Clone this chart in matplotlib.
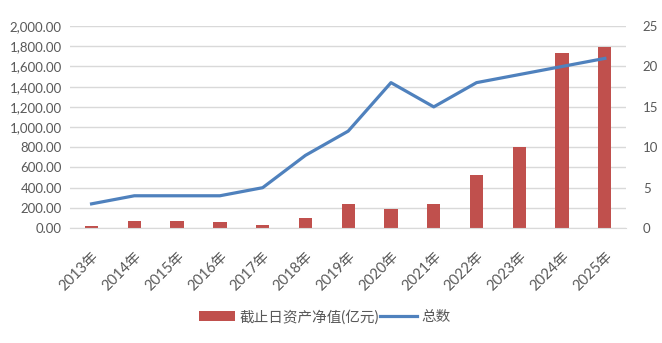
import numpy as np
import matplotlib
matplotlib.use('Agg')
import matplotlib.pyplot as plt
from matplotlib.ticker import FuncFormatter, MultipleLocator

plt.rcParams['font.family'] = ['Lato', 'Noto Sans CJK SC', 'DejaVu Sans']

years = ['2013年', '2014年', '2015年', '2016年', '2017年', '2018年', '2019年',
         '2020年', '2021年', '2022年', '2023年', '2024年', '2025年']
net_assets = [25, 70, 70, 60, 33, 96, 238, 185, 238, 528, 802, 1733, 1792]
total = [3, 4, 4, 4, 5, 9, 12, 18, 15, 18, 19, 20, 21]

red = '#C0504D'
blue = '#4F81BD'
txt = '#595959'
grid = '#D9D9D9'

fig = plt.figure(figsize=(6.62, 3.43), dpi=100)
ax = fig.add_axes([0.106, 0.335, 0.84, 0.589])
ax2 = ax.twinx()

x = np.arange(len(years))
ax.bar(x, net_assets, width=0.31, color=red, label='截止日资产净值(亿元)', zorder=2)
ax2.plot(x, total, color=blue, lw=2.3, label='总数', zorder=3)

ax.set_xlim(-0.5, len(years) - 0.5)
ax.set_ylim(0, 2000)
ax2.set_ylim(0, 25)
ax.yaxis.set_major_locator(MultipleLocator(200))
ax2.yaxis.set_major_locator(MultipleLocator(5))
ax.yaxis.set_major_formatter(FuncFormatter(lambda v, p: f'{v:,.2f}'))

ax.grid(axis='y', color=grid, lw=1, zorder=0)
ax.set_axisbelow(True)
for a in (ax, ax2):
    for s in a.spines.values():
        s.set_visible(False)
    a.tick_params(length=0, colors=txt, labelsize=9.5)
ax.spines['bottom'].set_visible(True)
ax.spines['bottom'].set_color(grid)

ax.set_xticks(x)
ax.set_xticklabels(years, rotation=45, ha='right', rotation_mode='anchor', fontsize=10.5)
ax.tick_params(axis='x', pad=15)
ax.tick_params(axis='y', pad=6)
ax2.tick_params(axis='y', pad=12)

h1, l1 = ax.get_legend_handles_labels()
h2, l2 = ax2.get_legend_handles_labels()
fig.legend(h1 + h2, l1 + l2, loc='center', bbox_to_anchor=(0.49, 0.076), ncol=2,
           frameon=False, fontsize=10.5, labelcolor=txt, handlelength=2.5,
           handletextpad=0.3, columnspacing=0.1)

fig.savefig('out.png', dpi=100)
